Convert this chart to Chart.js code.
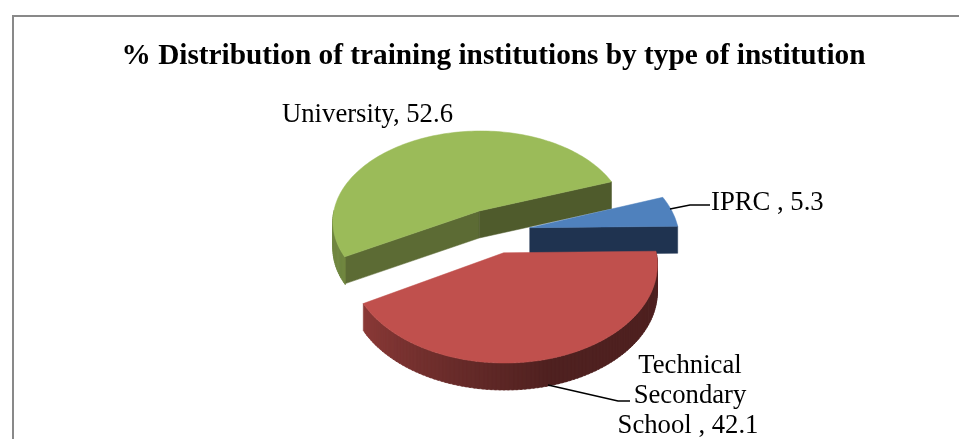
<!DOCTYPE html>
<html>
<head>
<meta charset="utf-8">
<script src="https://cdn.jsdelivr.net/npm/chart.js@4"></script>
<style>
    html, body { margin: 0; padding: 0; background: #fff; overflow: hidden; }
    #frame { position: absolute; left: 12px; top: 15px; width: 960px; height: 460px; border: 2px solid #898989; }
    #wrap { position: absolute; left: 0; top: 0; width: 959px; height: 439px; }
</style>
</head>
<body>
<div id="frame"></div>
<div id="wrap"><canvas id="pieChart" width="959" height="439"></canvas></div>
<script>
// Datos del gráfico
const categories = ['IPRC', 'Technical Secondary School', 'University'];
const values = [5.3, 42.1, 52.6];
const chartTitle = '% Distribution of training institutions by type of institution';

const topColors = ['#4F81BD', '#C0504D', '#9BBB59'];
// color of the two cut faces of each slice: [start, end]
const faceColors = [['#1F3350', '#1F3350'], ['#4A1D1C', '#4A1D1C'], ['#5C6B34', '#4F5B2C']];
const rimColors = [[79, 129, 189], [192, 80, 77], [155, 187, 89]];

// Vista 3D
const tilt = 0.625;
const perspective = 0.11;
const depth = 27;
const textFont = '26.7px "Liberation Serif"';

// Project a point of the pie plane onto the screen
function project(arc, angle, radius, drop) {
    const half = (arc.startAngle + arc.endAngle) / 2;
    const off = arc.options.offset / 4;
    const px = Math.cos(angle) * radius + Math.cos(half) * off;
    const py = Math.sin(angle) * radius + Math.sin(half) * off;
    const s = 1 / (1 - perspective * py / arc.outerRadius);
    return { x: arc.x + 1 + px * s, y: arc.y + py * tilt * s + drop };
}

function fillPolygon(ctx, points, color, edge) {
    ctx.beginPath();
    points.forEach((p, i) => i ? ctx.lineTo(p.x, p.y) : ctx.moveTo(p.x, p.y));
    ctx.closePath();
    ctx.fillStyle = color;
    ctx.strokeStyle = color;
    ctx.lineWidth = edge;
    ctx.fill();
    ctx.stroke();
}

// Darker towards the right of the front rim
function rimShade(angle) {
    const deg = angle * 180 / Math.PI;
    if (deg <= 75) return 0.41;
    return Math.min(0.41 + (deg - 75) / 75 * 0.31, 0.72);
}

function drawFace(ctx, arc, angle, color) {
    const apexTop = project(arc, angle, 0, 0);
    const apexBottom = project(arc, angle, 0, depth);
    const rimTop = project(arc, angle, arc.outerRadius, 0);
    const rimBottom = project(arc, angle, arc.outerRadius, depth);
    fillPolygon(ctx, [apexTop, rimTop, rimBottom, apexBottom], color, 0.5);
}

function drawSlice(ctx, arc, index) {
    const a0 = arc.startAngle;
    const a1 = arc.endAngle;
    const R = arc.outerRadius;
    const steps = Math.ceil((a1 - a0) * 40);

    // cut faces turned to the viewer
    if (Math.cos(a0) < 0) drawFace(ctx, arc, a0, faceColors[index][0]);
    if (Math.cos(a1) > 0) drawFace(ctx, arc, a1, faceColors[index][1]);

    // outer rim, front half only; strips overlap so no seams show
    const overlap = 0.012;
    for (let i = 0; i < steps; i++) {
        const t0 = a0 + (a1 - a0) * i / steps;
        const t1 = a0 + (a1 - a0) * (i + 1) / steps;
        if (Math.sin((t0 + t1) / 2) <= 0) continue;
        const shade = rimShade(((t0 + t1) / 2) % (2 * Math.PI));
        const rgb = rimColors[index].map(c => Math.round(c * shade));
        fillPolygon(ctx, [
            project(arc, t0 - overlap, R, 0), project(arc, t1, R, 0),
            project(arc, t1, R, depth), project(arc, t0 - overlap, R, depth)
        ], `rgb(${rgb.join(',')})`, 0);
    }

    // top surface
    const top = [project(arc, a0, 0, 0)];
    for (let i = 0; i <= steps; i++) {
        top.push(project(arc, a0 + (a1 - a0) * i / steps, R, 0));
    }
    fillPolygon(ctx, top, topColors[index], 0.5);
}

function drawLabels(ctx) {
    ctx.save();
    ctx.strokeStyle = '#000';
    ctx.lineWidth = 1.5;
    ctx.beginPath();
    ctx.moveTo(670, 209); ctx.lineTo(690, 205); ctx.lineTo(710, 205);
    ctx.moveTo(548, 385); ctx.lineTo(618, 401); ctx.lineTo(630, 401);
    ctx.stroke();

    ctx.fillStyle = '#000';
    ctx.font = textFont;
    ctx.textBaseline = 'alphabetic';
    ctx.textAlign = 'left';
    ctx.fillText(categories[2] + ', ' + values[2], 282, 122);
    ctx.fillText(categories[0] + ' , ' + values[0], 711, 210);
    ctx.textAlign = 'center';
    const words = categories[1].split(' ');
    ctx.fillText(words[0], 690, 373);
    ctx.fillText(words[1], 690, 403);
    ctx.fillText(words[2] + ' , ' + values[1], 688, 433);
    ctx.restore();
}

// Dibuja el pastel en 3D a partir de los arcos de Chart.js
const pie3d = {
    id: 'pie3d',
    beforeDatasetsDraw(chart) {
        const ctx = chart.ctx;
        const arcs = chart.getDatasetMeta(0).data;
        // back to front: University, IPRC, Technical
        [2, 0, 1].forEach(i => drawSlice(ctx, arcs[i], i));
        drawLabels(ctx);
        return false;
    }
};

new Chart(document.getElementById('pieChart').getContext('2d'), {
    type: 'pie',
    data: {
        labels: categories,
        datasets: [{
            data: values,
            backgroundColor: topColors,
            borderWidth: 0,
            offset: [144, 136, 150],
            radius: 149
        }]
    },
    plugins: [pie3d],
    options: {
        responsive: false,
        animation: false,
        events: [],
        rotation: 70,
        layout: { padding: { left: 28, top: 18, bottom: 51 } },
        plugins: {
            legend: { display: false },
            tooltip: { enabled: false },
            title: {
                display: true,
                text: chartTitle,
                color: '#000',
                font: { family: '"Liberation Serif"', size: 29.3, weight: 'bold' },
                padding: { top: 21, bottom: 1.4 }
            }
        }
    }
});
</script>
</body>
</html>
